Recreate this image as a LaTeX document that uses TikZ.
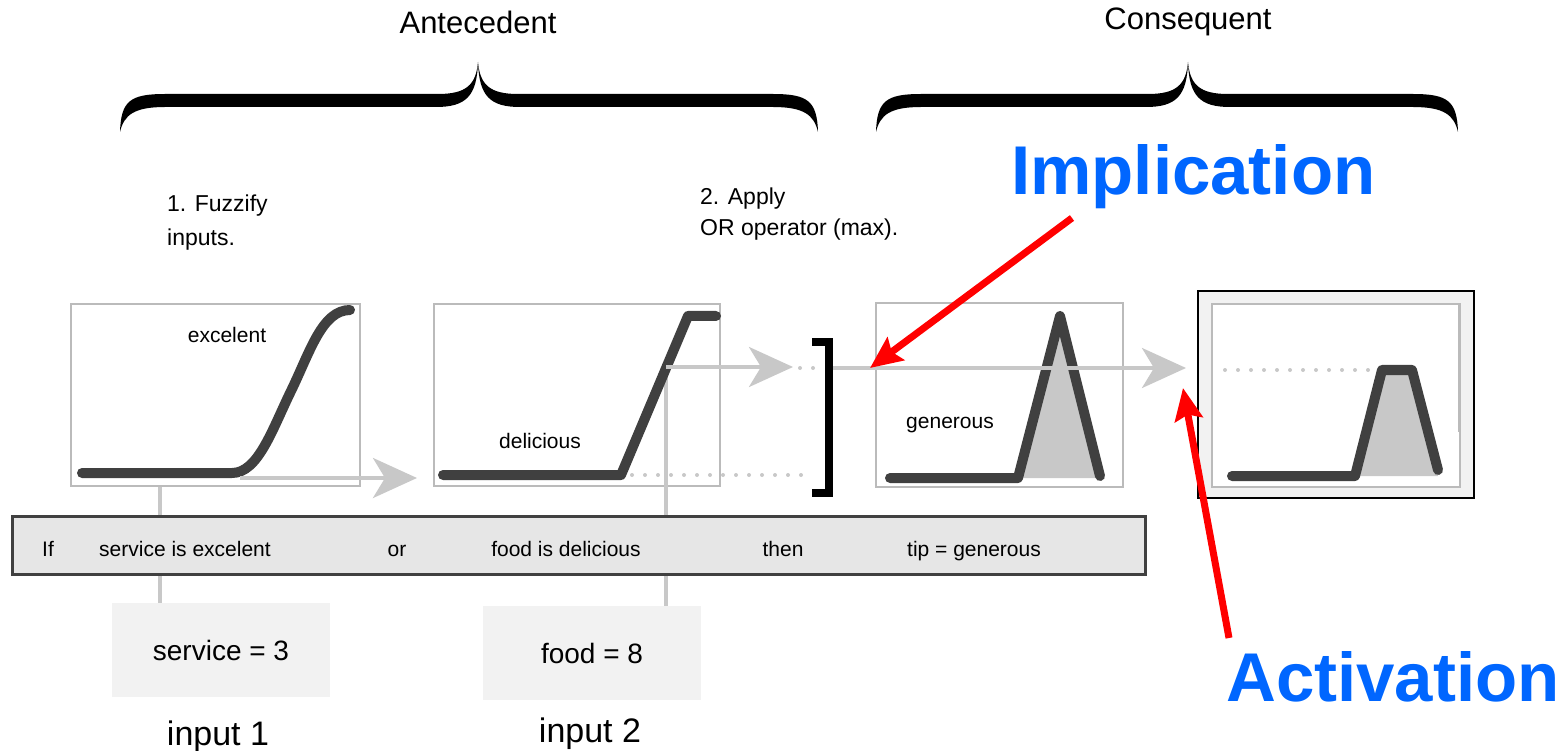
\documentclass[tikz,border=0pt]{standalone}
\usepackage{fontspec}
\setmainfont{Liberation Sans}
\usetikzlibrary{arrows.meta,calc}

\definecolor{curvegray}{HTML}{404040}
\definecolor{linkgray}{HTML}{C8C8C8}
\definecolor{framegray}{HTML}{BBBBBB}
\definecolor{barfill}{HTML}{E6E6E6}
\definecolor{panelfill}{HTML}{F2F2F2}
\definecolor{areafill}{HTML}{C8C8C8}
\definecolor{notered}{HTML}{FF0000}
\definecolor{noteblue}{HTML}{0066FF}

% filled curly brace: left end, middle tip, right end (x values)
\newcommand\fuzzbrace[3]{%
  \fill (#1,132) .. controls (#1+1,101) and (#1+10,94) .. (#1+45,94)
    -- (#2-40,94) .. controls (#2-12,94) and (#2-2,85) .. (#2,62)
    .. controls (#2+2,85) and (#2+12,94) .. (#2+40,94)
    -- (#3-45,94) .. controls (#3-10,94) and (#3-1,101) .. (#3,132)
    .. controls (#3-4,115) and (#3-14,107) .. (#3-45,107)
    -- (#2+42,107) .. controls (#2+12,107) and (#2+1,96) .. (#2,62)
    .. controls (#2-1,96) and (#2-12,107) .. (#2-42,107)
    -- (#1+45,107) .. controls (#1+14,107) and (#1+4,115) .. (#1,132) -- cycle;}

\tikzset{
  mfbox/.style={draw=framegray, line width=1.5pt, fill=white, inner sep=0pt},
  mfcurve/.style={draw=curvegray, line width=10pt, line cap=round, line join=round},
  link/.style={draw=linkgray, line width=4pt},
  linkarrow/.style={link, -{Stealth[length=44pt, width=40pt, inset=12pt, fill=linkgray]}},
  linkdots/.style={draw=linkgray, line width=4pt, line cap=round, dash pattern=on 0pt off 13pt},
  note/.style={text=noteblue, font=\fontsize{69}{80}\selectfont\bfseries, inner sep=0pt},
  notearrow/.style={draw=notered, line width=7pt, -{Stealth[length=32pt, width=28pt, inset=5pt, fill=notered]}},
  title/.style={font=\fontsize{31}{36}\selectfont, inner sep=0pt},
  stepcap/.style={font=\fontsize{23}{28}\selectfont, inner sep=0pt, anchor=base west},
  mflabel/.style={font=\fontsize{21}{25}\selectfont, inner sep=0pt, anchor=base},
  ruletext/.style={font=\fontsize{21}{25}\selectfont, inner sep=0pt, anchor=base},
  inbox/.style={fill=panelfill, inner sep=0pt, minimum width=218pt, minimum height=94pt,
    font=\fontsize{28}{32}\selectfont},
  inlabel/.style={font=\fontsize{34}{40}\selectfont, inner sep=0pt, anchor=base},
}

\begin{document}
\begin{tikzpicture}[x=1pt, y=-1pt]
\useasboundingbox (0,0) rectangle (1564,751);

% headings and braces
\node[title] (ante) at (478,22) {Antecedent};
\node[title] (cons) at (1188,22) {Consequent};
\fuzzbrace{120}{478}{818}
\fuzzbrace{876}{1188}{1458}

% step captions
\node[stepcap] (s1a) at (167,212) {1. Fuzzify};
\node[stepcap] (s1b) at (167,246) {inputs.};
\node[stepcap] (s2a) at (700,205) {2. Apply};
\node[stepcap] (s2b) at (700,236) {OR operator (max).};

% input value panels
\node[inbox] (in1) at (221,650) {service = 3};
\node[inbox] (in2) at (592,653) {food = 8};
\node[inlabel] (lab1) at (218,745) {input 1};
\node[inlabel] (lab2) at (590,742) {input 2};

% vertical input lines (behind the rule bar)
\coordinate (v1) at (160,486);
\coordinate (v2) at (666,367);
\draw[link] (v1) -- (v1 |- in1.north);
\draw[link] (v2) -- (v2 |- in2.north);

% membership function panels
\node[mfbox, minimum width=289pt, minimum height=182pt] (b1) at (215.5,395) {};
\node[mfbox, minimum width=286pt, minimum height=182pt] (b2) at (577,395) {};
\node[mfbox, minimum width=247pt, minimum height=184pt] (b3) at (999.5,395) {};
\node[draw=black, line width=2.5pt, fill=panelfill, inner sep=0pt,
      minimum width=276pt, minimum height=207pt] (b4o) at (1336,394.5) {};
\node[mfbox, minimum width=248pt, minimum height=183pt] (b4) at (1336,395.5) {};
\draw[draw=framegray, line width=3pt] (1459,305) -- (1459,432);

% redraw the vertical line of input 2 over panel 2
\draw[link] (v2) -- (v2 |- b2.south);

% service: excelent (sigmoid)
\draw[mfcurve] (82,473) -- (232,473) .. controls (258,473) and (272,430) .. (291,391)
  .. controls (310,352) and (322,310) .. (350,310);
\node[mflabel] (lexc) at (227,342) {excelent};

% food: delicious (ramp)
\draw[mfcurve] (443,475) -- (621,475) -- (688,316) -- (716,316);
\node[mflabel] (ldel) at (540,448) {delicious};

% tip: generous (triangle)
\fill[areafill] (1018,478) -- (1060,316) -- (1100,478) -- cycle;
\draw[mfcurve] (890,478) -- (1018,478) -- (1060,316) -- (1100,476);
\node[mflabel] (lgen) at (950,428) {generous};

% aggregated output (clipped triangle)
\fill[areafill] (1355,476) -- (1382,370) -- (1412,370) -- (1438,476) -- cycle;
\draw[linkdots] (1225,370) -- (1376,370);
\draw[mfcurve] (1232,476) -- (1355,476) -- (1382,370) -- (1412,370) -- (1438,470);

% membership flow lines
\coordinate (m1) at (240,478);
\coordinate (m1t) at (417,478);
\draw[linkarrow] (m1) -- (m1t);
\coordinate (m2t) at (793,367);
\draw[linkarrow] (v2) -- (m2t);
\draw[linkdots] (632,475) -- (814,475);
\draw[linkdots] (800,368) -- (822,368);

% OR bracket
\draw[line width=8pt] (812,342) -- (829,342) -- (829,493) -- (812,493);

% implication line to the output
\coordinate (outt) at (1186,368);
\draw[linkarrow] (833,368) -- (outt);

% rule bar
\node[draw=curvegray, line width=3pt, fill=barfill, inner sep=0pt,
      minimum width=1133pt, minimum height=58pt] (rule) at (578.5,545) {};
\node[ruletext] (rIf) at (48,556) {If};
\node[ruletext] (rA) at (185,556) {service is excelent};
\node[ruletext] (rOr) at (397,556) {or};
\node[ruletext] (rB) at (566,556) {food is delicious};
\node[ruletext] (rThen) at (783,556) {then};
\node[ruletext] (rC) at (974,556) {tip = generous};

% annotations
\node[note, anchor=base west] (imp) at (1011,195) {Implication};
\node[note, anchor=base west] (act) at (1226,701) {Activation};
\coordinate (impTail) at (1072,218);
\coordinate (impTip) at (870,368);
\coordinate (actTail) at (1229,638);
\coordinate (actTip) at (1183,388);
\draw[notearrow] (impTail) -- (impTip);
\draw[notearrow] (actTail) -- (actTip);
\end{tikzpicture}
\end{document}
